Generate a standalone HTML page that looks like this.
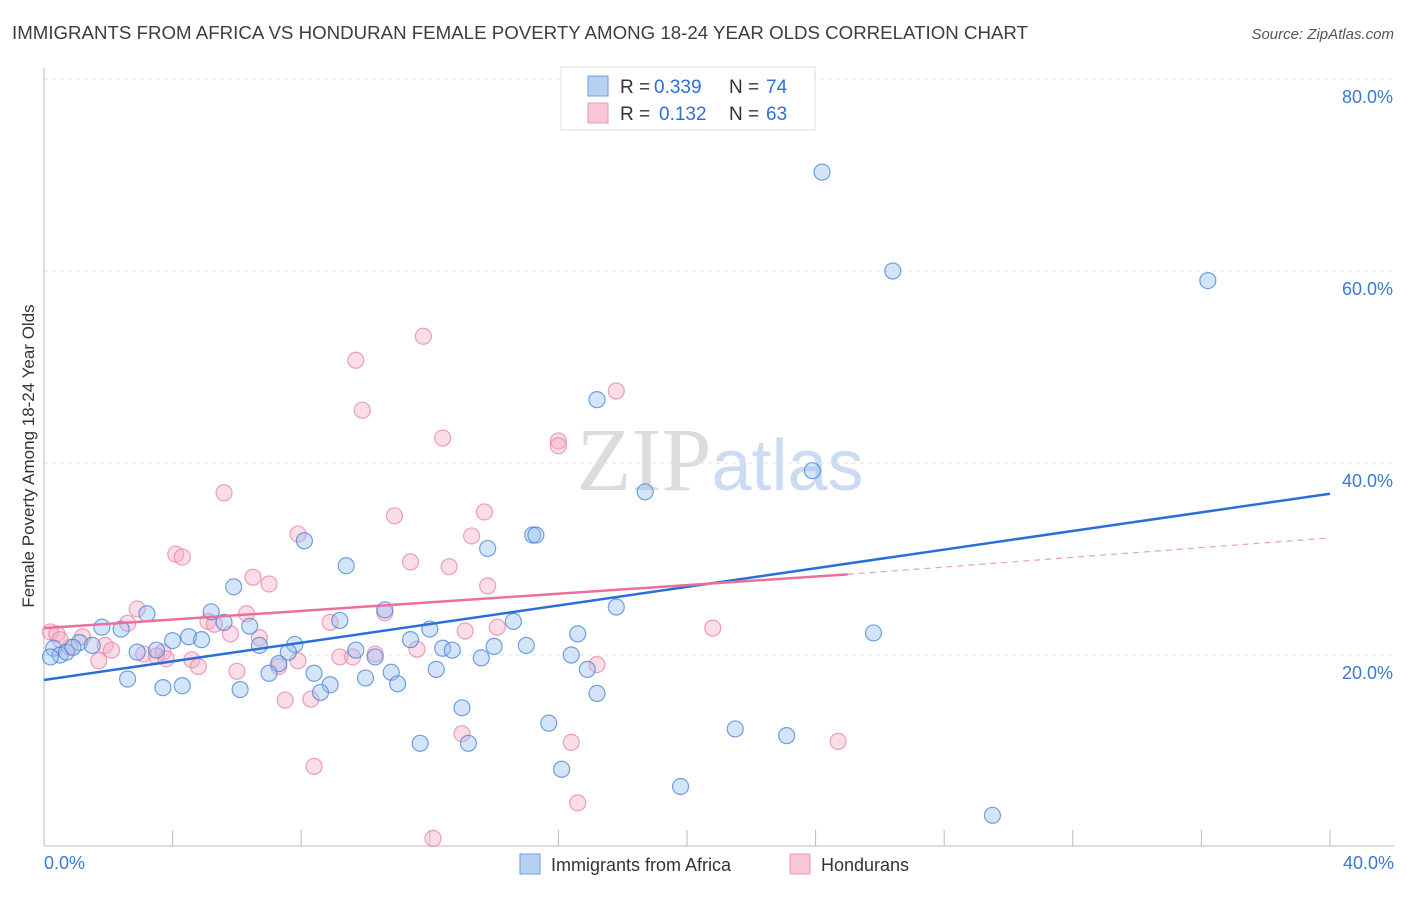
<!DOCTYPE html>
<html><head><meta charset="utf-8"><style>
body{margin:0;background:#fff;font-family:"Liberation Sans",sans-serif;}
</style></head><body>
<svg id="chart" width="1406" height="892" xmlns="http://www.w3.org/2000/svg" font-family="Liberation Sans, sans-serif">
<text x="12" y="39" font-size="18" fill="#3d3d3d" textLength="1016" lengthAdjust="spacingAndGlyphs">IMMIGRANTS FROM AFRICA VS HONDURAN FEMALE POVERTY AMONG 18-24 YEAR OLDS CORRELATION CHART</text>
<text x="1394" y="39" font-size="15" fill="#555" text-anchor="end" font-style="italic">Source: ZipAtlas.com</text>
<text x="720" y="490" font-size="90" text-anchor="middle"><tspan fill="#dcdcdc" font-family="Liberation Serif, serif">ZIP</tspan><tspan fill="#cbdcf2" font-size="72">atlas</tspan></text>
<g id="grid"></g>
<g id="axes"></g>
<g id="marks"></g>
<text transform="translate(34,456) rotate(-90)" font-size="17" fill="#333" text-anchor="middle">Female Poverty Among 18-24 Year Olds</text>
<g>
<rect x="561" y="67" width="254" height="63" fill="#fff" stroke="#ddd"/>
<rect x="588" y="76" width="20" height="20" fill="#b7d1f3" stroke="#6d9de0"/>
<rect x="588" y="103" width="20" height="20" fill="#f9c6d5" stroke="#eb9ab4"/>
<text x="620" y="93" font-size="19" fill="#333">R =</text>
<text x="654" y="93" font-size="19" fill="#2f6fd6">0.339</text>
<text x="729" y="93" font-size="19" fill="#333">N =</text>
<text x="766" y="93" font-size="19" fill="#2f6fd6">74</text>
<text x="620" y="120" font-size="19" fill="#333">R =</text>
<text x="659" y="120" font-size="19" fill="#2f6fd6">0.132</text>
<text x="729" y="120" font-size="19" fill="#333">N =</text>
<text x="766" y="120" font-size="19" fill="#2f6fd6">63</text>
</g>
<g>
<rect x="520" y="854" width="20" height="20" fill="#b7d1f3" stroke="#6d9de0"/>
<text x="551" y="871" font-size="18" fill="#333">Immigrants from Africa</text>
<rect x="790" y="854" width="20" height="20" fill="#f9c6d5" stroke="#eb9ab4"/>
<text x="821" y="871" font-size="18" fill="#333">Hondurans</text>
</g>
</svg>
<script>
const blueX=[24.2,26.4,36.2,17.2,18.7,23.9,8.1,15.2,15.3,13.8,9.4,5.9,3.2,5.2,10.6,17.8,9.2,6.4,5.6,1.8,2.4,4.5,4.9,12.0,14.6,16.6,25.8,11.4,7.8,6.7,12.4,12.7,14.0,15.0,4.0,3.5,2.9,1.1,1.5,0.3,0.5,0.7,7.6,9.7,10.3,13.6,16.4,7.3,8.4,10.8,10.0,12.2,16.9,2.6,3.7,4.3,6.1,7.0,8.9,8.6,11.0,17.2,13.0,15.7,21.5,23.1,11.7,13.2,16.1,19.8,29.5,0.2,0.9];
const blueY=[70.3,60.0,59.0,46.6,37.0,39.2,31.9,32.5,32.5,31.1,29.3,27.1,24.3,24.5,24.7,25.0,23.6,23.0,23.4,22.9,22.7,21.9,21.6,22.7,23.5,22.2,22.3,21.6,21.1,21.0,20.7,20.5,20.9,21.0,21.5,20.5,20.3,21.3,21.0,20.7,20.0,20.3,20.3,20.5,19.8,19.7,20.0,19.1,18.1,18.2,17.6,18.5,18.5,17.5,16.6,16.8,16.4,18.1,16.9,16.1,17.0,16.0,14.5,12.9,12.3,11.6,10.8,10.8,8.1,6.3,3.3,19.8,20.8];
const pinkX=[11.8,9.7,9.9,17.8,12.4,16.0,16.0,5.6,10.9,13.7,13.3,7.9,4.1,4.3,11.4,12.6,6.5,7.0,13.8,2.9,6.3,10.6,2.6,5.1,5.3,8.9,14.1,20.8,13.1,5.8,6.7,0.2,1.2,1.9,2.1,3.1,3.7,0.8,1.7,3.5,4.6,3.8,9.2,9.6,10.3,11.6,7.9,7.3,4.8,6.0,17.2,7.5,8.3,13.0,16.4,24.7,8.4,16.6,12.1,0.4,0.5];
const pinkY=[53.2,50.7,45.5,47.5,42.6,42.3,41.8,36.9,34.5,34.9,32.4,32.6,30.5,30.2,29.7,29.2,28.1,27.4,27.2,24.8,24.3,24.4,23.3,23.5,23.2,23.4,22.9,22.8,22.5,22.2,21.8,22.4,21.9,21.0,20.5,20.1,20.3,20.8,19.4,19.9,19.5,19.6,19.8,19.8,20.1,20.6,19.4,18.8,18.8,18.3,19.0,15.3,15.4,11.8,10.9,11.0,8.4,4.6,0.9,22.2,21.6];
const blueTrend=[17.4,36.8];
const pinkTrend=[22.8,28.4,32.2];
const yTicks=[20,40,60,80];
const xTickVals=[0,4,8,12,16,20,24,28,32,36,40];
const NS='http://www.w3.org/2000/svg';
const X0=44,X1=1330,Y0=847,Y80=79;
function sx(v){return X0+(X1-X0)*v/40;}
function sy(v){return Y0-(Y0-Y80)*v/80;}
function mk(p,tag,a){const e=document.createElementNS(NS,tag);for(const k in a)e.setAttribute(k,a[k]);p.appendChild(e);return e;}
const grid=document.getElementById('grid'),axes=document.getElementById('axes'),marks=document.getElementById('marks');
yTicks.forEach(v=>{
 const l=mk(grid,'line',{x1:44,x2:1394,y1:sy(v),y2:sy(v),stroke:'#e2e2e2','stroke-dasharray':'4,4'});
 
 
 const t=mk(axes,'text',{x:1393,y:sy(v)+24,'font-size':18,fill:'#3a78d6','text-anchor':'end'});
 t.textContent=v.toFixed(1)+'%';
 
 
});
const ax=mk(axes,'line',{x1:44,x2:44,y1:68,y2:846,stroke:'#bbb'});


const bx=mk(axes,'line',{x1:44,x2:1394,y1:846,y2:846,stroke:'#bbb'});


xTickVals.forEach(v=>{
 const t=mk(axes,'line',{x1:sx(v),x2:sx(v),y1:830,y2:846,stroke:'#bbb'});
 
 
});
[[0,'start',44],[40,'end',1394]].forEach(([v,a,x])=>{
 const t=mk(axes,'text',{x:x,y:869,'font-size':18,fill:'#3a78d6','text-anchor':a});
 t.textContent=v.toFixed(1)+'%';
 
 
});
pinkX.forEach((x,i)=>{
 const c=mk(marks,'circle',{cx:sx(x),cy:sy(pinkY[i]),r:8,fill:'rgba(246,170,195,0.4)',stroke:'rgba(232,130,165,0.75)','stroke-width':1.2});
 
 
});
blueX.forEach((x,i)=>{
 const c=mk(marks,'circle',{cx:sx(x),cy:sy(blueY[i]),r:8,fill:'rgba(150,190,240,0.4)',stroke:'rgba(70,130,215,0.75)','stroke-width':1.2});
 
 
});
const bl=mk(marks,'line',{x1:sx(0),y1:sy(blueTrend[0]),x2:sx(40),y2:sy(blueTrend[1]),stroke:'#2a6fd8','stroke-width':2.5});


const pl=mk(marks,'line',{x1:sx(0),y1:sy(pinkTrend[0]),x2:sx(25),y2:sy(pinkTrend[1]),stroke:'#e8709a','stroke-width':2.5});


const pd=mk(marks,'line',{x1:sx(25),y1:sy(pinkTrend[1]),x2:sx(40),y2:sy(pinkTrend[2]),stroke:'#e8a0b8','stroke-width':1.2,'stroke-dasharray':'6,5'});


</script>
</body></html>
